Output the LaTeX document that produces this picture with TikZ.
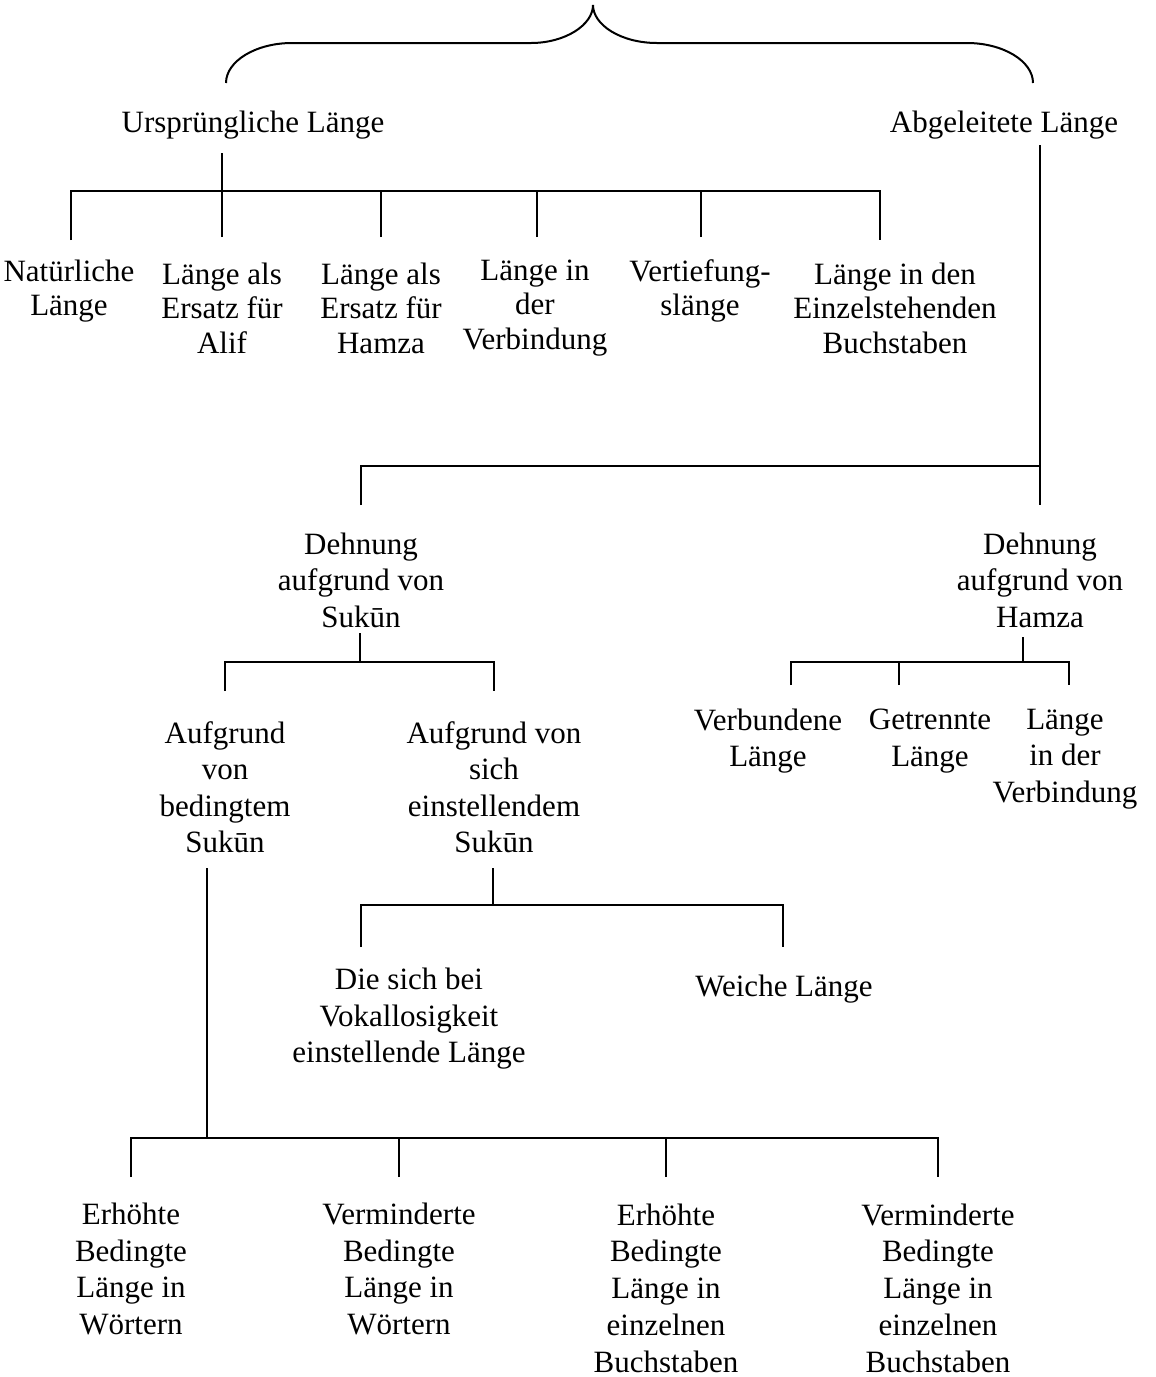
\documentclass[tikz,border=0pt]{standalone}
\usepackage{fontspec}
\setmainfont{Liberation Serif}
\begin{document}
\begin{tikzpicture}[x=0.5pt,y=-0.5pt,
  lbl/.style={align=center,inner sep=0pt,yshift=-1pt,font=\fontsize{15.5}{18.25}\selectfont},
  lbltop/.style={lbl,font=\fontsize{15.5}{17.25}\selectfont},
  lblbot/.style={lbl,font=\fontsize{15.5}{18.4}\selectfont},
  conn/.style={line width=1pt}]
\useasboundingbox[fill=white] (0,0) rectangle (1156,1377);

% brace
\coordinate (brL) at (226,83);
\coordinate (brR) at (1033,83);
\coordinate (brTip) at (593,5);
\draw[conn] (brL) .. controls (226,61) and (256,43) .. (292,43) -- (531,43)
  .. controls (565,43) and (593,25) .. (brTip)
  .. controls (593,25) and (621,43) .. (657,43) -- (967,43)
  .. controls (1003,43) and (1033,61) .. (brR);

% level 1
\node[lbl] (U) at (253,123) {Ursprüngliche Länge};
\node[lbl] (A) at (1004,123) {Abgeleitete Länge};

% level 2 (left)
\node[lbltop] (n1) at (69,289) {Natürliche\\Länge};
\node[lbltop] (n2) at (222,306) {Länge als\\Ersatz für\\Alif};
\node[lbltop] (n3) at (381,306) {Länge als\\Ersatz für\\Hamza};
\node[lbltop] (n4) at (535,306) {Länge in\\der\\Verbindung};
\node[lbltop] (n5) at (700,289) {Vertiefung-\\slänge};
\node[lbltop] (n6) at (895,306) {Länge in den\\Einzelstehenden\\Buchstaben};

\coordinate (uS) at (222,153);
\coordinate (barA) at (0,191);
\coordinate (c1) at (71,240);
\coordinate (c2) at (222,237);
\coordinate (c3) at (381,237);
\coordinate (c4) at (537,237);
\coordinate (c5) at (701,237);
\coordinate (c6) at (880,240);
\draw[conn] (uS) -- (uS |- barA);
\draw[conn] (c1) -- (c1 |- barA) -- (c6 |- barA) -- (c6);
\foreach \c in {c2,c3,c4,c5} \draw[conn] (\c) -- (\c |- barA);

% right branch
\coordinate (aS) at (1040,145);
\coordinate (dhT) at (1040,505);
\coordinate (dsT) at (361,505);
\coordinate (barB) at (0,466);
\draw[conn] (aS) -- (dhT);
\draw[conn] (dsT) -- (dsT |- barB) -- (dhT |- barB);

\node[lbl] (DS) at (361,578) {Dehnung\\aufgrund von\\Sukūn};
\node[lbl] (DH) at (1040,578) {Dehnung\\aufgrund von\\Hamza};

% Sukun children
\coordinate (dsS) at (360,633);
\coordinate (barC) at (0,662);
\coordinate (s1) at (225,691);
\coordinate (s2) at (494,691);
\draw[conn] (dsS) -- (dsS |- barC);
\draw[conn] (s1) -- (s1 |- barC) -- (s2 |- barC) -- (s2);

\node[lbl] (AB) at (225,785) {Aufgrund\\von\\bedingtem\\Sukūn};
\node[lbl] (AE) at (494,785) {Aufgrund von\\sich\\einstellendem\\Sukūn};

% Hamza children
\coordinate (dhS) at (1023,637);
\coordinate (h1) at (791,685);
\coordinate (h2) at (899,685);
\coordinate (h3) at (1069,685);
\draw[conn] (dhS) -- (dhS |- barC);
\draw[conn] (h1) -- (h1 |- barC) -- (h3 |- barC) -- (h3);
\draw[conn] (h2) -- (h2 |- barC);

\node[lbl] (V1) at (768,739) {Verbundene\\Länge};
\node[lbl] (V2) at (930,739) {Getrennte\\Länge};
\node[lbl] (V3) at (1065,757) {Länge\\in der\\Verbindung};

% einstellendem children
\coordinate (aeS) at (493,868);
\coordinate (barD) at (0,905);
\coordinate (e1) at (361,947);
\coordinate (e2) at (783,947);
\draw[conn] (aeS) -- (aeS |- barD);
\draw[conn] (e1) -- (e1 |- barD) -- (e2 |- barD) -- (e2);

\node[lbl] (Die) at (409,1017) {Die sich bei\\Vokallosigkeit\\einstellende Länge};
\node[lbl] (W) at (784,987) {Weiche Länge};

% bedingtem children
\coordinate (abS) at (207,868);
\coordinate (barE) at (0,1138);
\coordinate (b1) at (131,1177);
\coordinate (b2) at (399,1177);
\coordinate (b3) at (666,1177);
\coordinate (b4) at (938,1177);
\draw[conn] (abS) -- (abS |- barE);
\draw[conn] (b1) -- (b1 |- barE) -- (b4 |- barE) -- (b4);
\draw[conn] (b2) -- (b2 |- barE);
\draw[conn] (b3) -- (b3 |- barE);

\node[lblbot] (B1) at (131,1267) {Erhöhte\\Bedingte\\Länge in\\Wörtern};
\node[lblbot] (B2) at (399,1267) {Verminderte\\Bedingte\\Länge in\\Wörtern};
\node[lblbot] (B3) at (666,1286) {Erhöhte\\Bedingte\\Länge in\\einzelnen\\Buchstaben};
\node[lblbot] (B4) at (938,1286) {Verminderte\\Bedingte\\Länge in\\einzelnen\\Buchstaben};
\end{tikzpicture}
\end{document}
